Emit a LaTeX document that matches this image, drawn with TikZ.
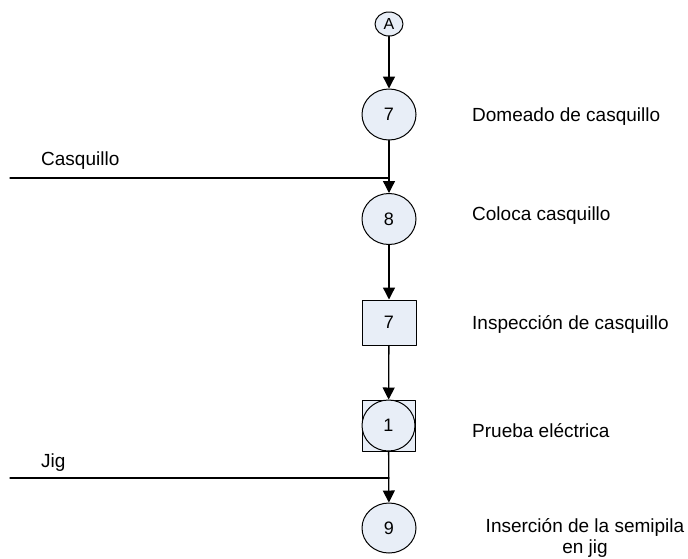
\documentclass[tikz,border=0pt]{standalone}
\usepackage{fontspec}
\setmainfont{Liberation Sans}
\usetikzlibrary{arrows.meta}
\usetikzlibrary{shapes.geometric}
\definecolor{opfill}{RGB}{232,238,247}

\begin{document}
\begin{tikzpicture}[line cap=round,line join=round,>={Triangle[length=12pt,width=12pt]},x=1pt,y=-1pt,
  opnode/.style={ellipse,draw,fill=opfill,line width=1pt,minimum width=54pt,minimum height=51pt,inner sep=0pt,font=\fontsize{18}{20}\selectfont},
  inspnode/.style={rectangle,draw,fill=opfill,line width=1pt,minimum width=54pt,minimum height=45pt,inner sep=0pt,font=\fontsize{18}{20}\selectfont},
  connnode/.style={ellipse,draw,fill=opfill,line width=1pt,minimum width=28pt,minimum height=24pt,inner sep=0pt,font=\fontsize{16}{18}\selectfont},
  lbl/.style={anchor=base west,inner sep=0pt,font=\fontsize{19}{21}\selectfont},
  flow/.style={->,line width=1.3pt}]
\useasboundingbox (0,0) rectangle (688,558);
% operaciones
\node[connnode] (conA) at (389,24) {A};
\node[opnode] (op7) at (389,114.5) {7};
\node[opnode] (op8) at (389,219) {8};
\node[inspnode] (insp7) at (389,322.5) {7};
\node[inspnode,minimum width=53pt,minimum height=51pt] (comb1) at (388.5,425.5) {};
\node[opnode,minimum width=53pt] (op1) at (388.5,425.5) {1};
\node[opnode,minimum height=50pt] (op9) at (389,528) {9};
% flechas
\draw[flow] (conA) -- (op7);
\draw[flow] (op7) -- (op8);
\draw[flow] (op8) -- (insp7);
\draw[flow] (insp7) -- (comb1);
\draw[flow] (comb1) -- (op9);
% entradas
\coordinate (casq) at (10,178);
\coordinate (jig) at (10,478);
\draw[line width=1.3pt] (casq) -- (casq -| op8);
\draw[line width=1.3pt] (jig) -- (jig -| op9);
\node[lbl] (tcasq) at (41,165) {Casquillo};
\node[lbl] (tjig) at (41,467) {Jig};
% descripciones
\node[lbl] (d7) at (472,121) {Domeado de casquillo};
\node[lbl] (d8) at (472,220) {Coloca casquillo};
\node[lbl] (di7) at (472,329) {Inspección de casquillo};
\node[lbl] (d1) at (472,437) {Prueba eléctrica};
\node[inner sep=0pt,align=center,font=\fontsize{19}{21}\selectfont] (d9) at (585,537.5) {Inserción de la semipila\\en jig};
\end{tikzpicture}
\end{document}
